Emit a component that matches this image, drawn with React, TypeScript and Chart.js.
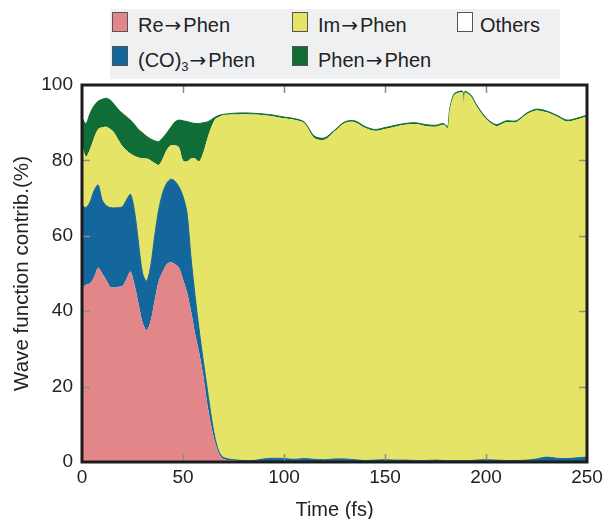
import React, { useEffect, useRef } from "react";
import { Chart, registerables } from "chart.js";
Chart.register(...registerables);

// Time axis (fs)
const times = [
  0, 2, 4, 6, 8, 10, 12, 14, 16, 18, 20, 22, 24, 26, 28, 30, 32, 34, 36, 38,
  40, 42, 44, 46, 48, 50, 52, 54, 56, 58, 60, 62, 64, 66, 68, 70,
  75, 80, 85, 90, 95, 100, 105, 110, 115, 120, 125, 130, 135, 140, 145, 150,
  155, 160, 165, 170, 175, 179, 181, 182, 184, 186, 188.5, 189, 189.5, 191, 193,
  195, 200, 205, 210, 215, 220, 225, 230, 235, 240, 245, 250,
];

// Contributions (%)
const reToPhen = [
  46, 47, 47.4, 49, 51.5, 50, 48.3, 46.5, 46.3, 46.5, 46.7, 48.5, 50.5, 47, 42, 37, 35, 37.5, 43, 48,
  50.5, 52.5, 53, 52.5, 51.5, 48.5, 45, 40, 34, 29, 23, 15.5, 9.5, 5, 2, 0.8,
  0.4, 0.2, 0.2, 0.2, 0.2, 0.2, 0.2, 0.2, 0.2, 0.2, 0.2, 0.2, 0.2, 0.2, 0.2, 0.2,
  0.2, 0.2, 0.2, 0.2, 0.2, 0.2, 0.2, 0.2, 0.2, 0.2, 0.2, 0.2, 0.2, 0.2, 0.2,
  0.2, 0.2, 0.2, 0.2, 0.2, 0.2, 0.2, 0.2, 0.2, 0.2, 0.2, 0.2,
];

const coToPhen = [
  22, 20.5, 21.6, 23, 22, 19.5, 19.7, 21, 21.1, 21, 21, 21, 20.5, 19.5, 16, 13, 13, 14.5, 17, 19,
  21, 21.5, 22, 22, 21.5, 22, 21, 14, 10, 6, 4, 4, 2.5, 1, 0.5, 0.4,
  0.2, 0.2, 0.2, 0.6, 0.8, 0.7, 0.5, 0.7, 0.5, 0.4, 0.6, 0.6, 0.4, 0.2, 0.3, 0.4,
  0.3, 0.3, 0.2, 0.2, 0.3, 0.2, 0.2, 0.2, 0.2, 0.2, 0.2, 0.2, 0.2, 0.2, 0.2,
  0.3, 0.4, 0.3, 0.2, 0.2, 0.3, 0.6, 1.1, 0.8, 0.7, 0.9, 1.1,
];

const imToPhen = [
  16, 13.5, 14, 14, 14.8, 19.3, 20.9, 20.8, 19.9, 18, 16.1, 13.2, 10.8, 14.7, 22.8, 30.6, 32.5, 28, 19.3, 11.8,
  9, 8.8, 9, 9.5, 10.5, 9.5, 13.7, 26.5, 36.5, 44.7, 55, 66.2, 76.8, 85, 89.1, 90.8,
  91.55, 91.85, 91.75, 91.15, 90.65, 90.25, 90.05, 88.95, 85.25, 84.85, 86.85, 89.05, 89.55, 88.25, 87.35, 87.75,
  88.45, 88.95, 89.25, 88.75, 88.45, 89.05, 88.15, 92.75, 96.75, 97.45, 97.55, 94.75, 97.55, 97.25, 96.25,
  94.15, 90.35, 88.65, 89.75, 89.75, 91.65, 92.45, 91.45, 90.65, 89.45, 89.75, 90.35,
];

const phenToPhen = [
  7.2, 8.8, 9.5, 8.5, 7.4, 7.4, 7.6, 7.7, 7.5, 8, 8.7, 8.9, 8.9, 8.3, 7.4, 6.7, 5.9, 5.7, 5.9, 6.2,
  5.5, 4.5, 4.8, 6.2, 7.2, 10.5, 10.6, 9.5, 9.3, 10.1, 8, 4.5, 2, 0.5, 0.4, 0.2,
  0.35, 0.35, 0.35, 0.35, 0.35, 0.35, 0.35, 0.35, 0.5, 0.5, 0.35, 0.35, 0.35, 0.35, 0.35, 0.35,
  0.35, 0.35, 0.35, 0.35, 0.35, 0.35, 0.35, 0.35, 0.35, 0.35, 0.35, 0.35, 0.35, 0.35, 0.35,
  0.35, 0.35, 0.35, 0.35, 0.35, 0.35, 0.35, 0.35, 0.35, 0.35, 0.35, 0.35,
];

const xTicks = [0, 50, 100, 150, 200, 250];
const yTicks = [0, 20, 40, 60, 80, 100];

const COLORS = {
  re: "#E3868A",
  co: "#14679C",
  im: "#E5E466",
  phen: "#116D36",
};

const FONT = "'Liberation Sans', Arial, Helvetica, sans-serif";
const ARROW_FONT = "'DejaVu Sans', sans-serif";
const TEXT = "#222222";

const framePlugin = {
  id: "framePlugin",
  afterDatasetsDraw(chart: any) {
    const { ctx, chartArea: a, scales } = chart;
    ctx.save();
    ctx.strokeStyle = "#8c8c8c";
    ctx.lineWidth = 1.5;
    const tl = 8;
    xTicks.slice(1, -1).forEach((v) => {
      const x = Math.round(scales.x.getPixelForValue(v)) + 0.5;
      ctx.beginPath();
      ctx.moveTo(x, a.bottom);
      ctx.lineTo(x, a.bottom - tl);
      ctx.moveTo(x, a.top);
      ctx.lineTo(x, a.top + tl);
      ctx.stroke();
    });
    yTicks.slice(1, -1).forEach((v) => {
      const y = Math.round(scales.y.getPixelForValue(v)) + 0.5;
      ctx.beginPath();
      ctx.moveTo(a.left, y);
      ctx.lineTo(a.left + tl, y);
      ctx.moveTo(a.right, y);
      ctx.lineTo(a.right - tl, y);
      ctx.stroke();
    });
    ctx.strokeStyle = "#1c1c1c";
    ctx.lineWidth = 3;
    ctx.strokeRect(a.left, a.top, a.right - a.left, a.bottom - a.top);
    ctx.restore();
  },
};

function mkData(vals: number[]) {
  return times.map((t, i) => ({ x: t, y: vals[i] }));
}

const legendItems = [
  { key: "re", pre: "Re", sub: "", post: "Phen", arrow: true, color: COLORS.re, sx: 112, tx: 138, row: 0 },
  { key: "im", pre: "Im", sub: "", post: "Phen", arrow: true, color: COLORS.im, sx: 292, tx: 318, row: 0 },
  { key: "oth", pre: "Others", sub: "", post: "", arrow: false, color: "#ffffff", sx: 457, tx: 480, row: 0 },
  { key: "co", pre: "(CO)", sub: "3", post: "Phen", arrow: true, color: COLORS.co, sx: 112, tx: 138, row: 1 },
  { key: "ph", pre: "Phen", sub: "", post: "Phen", arrow: true, color: COLORS.phen, sx: 292, tx: 318, row: 1 },
];

export default function App() {
  const canvasRef = useRef<HTMLCanvasElement | null>(null);

  useEffect(() => {
    const canvas = canvasRef.current;
    if (!canvas) return;
    const common = {
      pointRadius: 0,
      borderWidth: 1,
      tension: 0.3,
    };
    const chart = new Chart(canvas, {
      type: "line",
      data: {
        datasets: [
          { ...common, label: "Re→Phen", data: mkData(reToPhen), backgroundColor: COLORS.re, borderColor: COLORS.re, fill: "origin", borderWidth: 0 },
          { ...common, label: "(CO)3→Phen", data: mkData(coToPhen), backgroundColor: COLORS.co, borderColor: COLORS.co, fill: "-1" },
          { ...common, label: "Im→Phen", data: mkData(imToPhen), backgroundColor: COLORS.im, borderColor: COLORS.im, fill: "-1", borderWidth: 0 },
          { ...common, label: "Phen→Phen", data: mkData(phenToPhen), backgroundColor: COLORS.phen, borderColor: COLORS.phen, fill: "-1" },
        ],
      },
      options: {
        animation: false,
        responsive: false,
        maintainAspectRatio: false,
        layout: { padding: { left: 0, right: 24, top: 85, bottom: 0 } },
        plugins: {
          legend: { display: false },
          tooltip: { enabled: false },
        },
        scales: {
          x: {
            type: "linear",
            min: 0,
            max: 250,
            afterBuildTicks: (s: any) => {
              s.ticks = xTicks.map((v) => ({ value: v }));
            },
            afterFit: (s: any) => {
              s.height = 57;
            },
            grid: { display: false, drawTicks: false },
            border: { display: false },
            ticks: {
              padding: 4,
              autoSkip: false,
              maxRotation: 0,
              color: TEXT,
              font: { family: FONT, size: 19 },
            },
            title: {
              display: true,
              text: "Time (fs)",
              color: TEXT,
              font: { family: FONT, size: 20, lineHeight: 0.9 },
              padding: { top: 0, bottom: 0 },
            },
          },
          y: {
            stacked: true,
            min: 0,
            max: 100,
            afterBuildTicks: (s: any) => {
              s.ticks = yTicks.map((v) => ({ value: v }));
            },
            afterFit: (s: any) => {
              s.width = 82;
            },
            grid: { display: false, drawTicks: false },
            border: { display: false },
            ticks: {
              padding: 9,
              color: TEXT,
              font: { family: FONT, size: 19 },
            },
            title: {
              display: true,
              text: "Wave function contrib.(%)",
              color: TEXT,
              font: { family: FONT, size: 20.6 },
              padding: { top: 10, bottom: 0 },
            },
          },
        },
      },
      plugins: [framePlugin],
    });
    return () => chart.destroy();
  }, []);

  return (
    <div style={{ position: "fixed", left: 0, top: 0, width: 611, height: 519, background: "#ffffff" }}>
      <canvas ref={canvasRef} width={611} height={519} style={{ display: "block", width: 611, height: 519 }} />
      <div
        style={{
          position: "absolute",
          left: 110,
          top: 9,
          width: 450,
          height: 70,
          background: "#EFF0F2",
        }}
      />
      {legendItems.map((it) => (
        <React.Fragment key={it.key}>
          <div
            style={{
              position: "absolute",
              left: it.sx,
              top: it.row === 0 ? 12 : 46,
              width: 16,
              height: 20,
              boxSizing: "border-box",
              background: it.color,
              border: "1px solid #555",
            }}
          />
          <div
            style={{
              position: "absolute",
              left: it.tx,
              top: it.row === 0 ? 14 : 49,
              fontFamily: FONT,
              fontSize: 20,
              lineHeight: "23px",
              color: TEXT,
              whiteSpace: "nowrap",
            }}
          >
            {it.pre}
            {it.sub ? (
              <sub style={{ fontSize: 13, verticalAlign: "-4px", lineHeight: 0 }}>{it.sub}</sub>
            ) : null}
            {it.arrow ? (
              <span style={{ fontFamily: ARROW_FONT, fontSize: 20, margin: "0 2px 0 1px" }}>→</span>
            ) : null}
            {it.post}
          </div>
        </React.Fragment>
      ))}
    </div>
  );
}
